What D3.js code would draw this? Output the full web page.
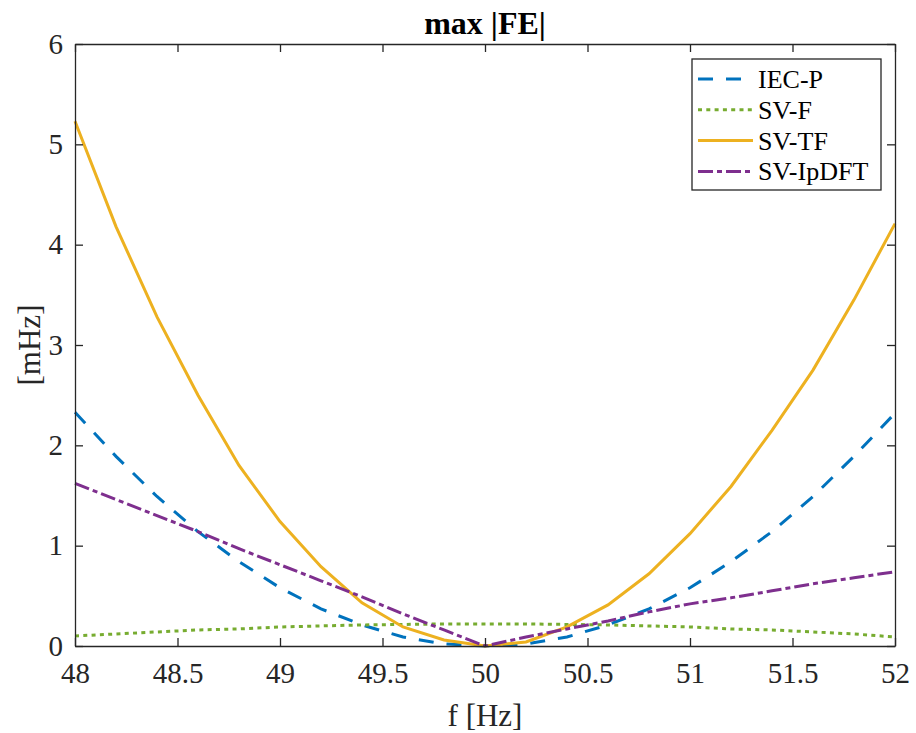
<!DOCTYPE html>
<html>
<head>
<meta charset="utf-8">
<script src="https://cdn.jsdelivr.net/npm/d3@7"></script>
<style>
  body { margin: 0; background: #fff; }
  svg { display: block; font-family: "Liberation Serif", "Times New Roman", serif; }
</style>
</head>
<body>
<svg id="chart" width="916" height="733"></svg>
<script>
// data
const freq = [48, 48.2, 48.4, 48.6, 48.8, 49, 49.2, 49.4, 49.6, 49.8, 50,
              50.2, 50.4, 50.6, 50.8, 51, 51.2, 51.4, 51.6, 51.8, 52];
const iecP = [2.33, 1.89, 1.49, 1.14, 0.84, 0.58, 0.37, 0.21, 0.09, 0.02, 0,
              0.02, 0.09, 0.21, 0.37, 0.58, 0.84, 1.14, 1.49, 1.89, 2.32];
const svF = [0.10, 0.12, 0.14, 0.16, 0.17, 0.19, 0.20, 0.21, 0.215, 0.22, 0.22,
             0.22, 0.215, 0.21, 0.20, 0.19, 0.17, 0.16, 0.14, 0.12, 0.09];
const svTF = [5.23, 4.18, 3.28, 2.50, 1.80, 1.24, 0.79, 0.43, 0.19, 0.06, 0,
              0.04, 0.19, 0.41, 0.72, 1.12, 1.59, 2.15, 2.75, 3.45, 4.21];
const svIpDFT = [1.62, 1.46, 1.30, 1.14, 0.97, 0.81, 0.65, 0.49, 0.32, 0.16, 0,
                 0.09, 0.17, 0.25, 0.34, 0.42, 0.48, 0.55, 0.62, 0.68, 0.74];
const seriesNames = ['IEC-P', 'SV-F', 'SV-TF', 'SV-IpDFT'];
const xTicks = [48, 48.5, 49, 49.5, 50, 50.5, 51, 51.5, 52];
const yTicks = [0, 1, 2, 3, 4, 5, 6];

const series = [
    { name: seriesNames[0], values: iecP, color: '#0072BD', dash: '15,13' },
    { name: seriesNames[1], values: svF, color: '#77AC30', dash: '4,4.3' },
    { name: seriesNames[2], values: svTF, color: '#EDB120', dash: null },
    { name: seriesNames[3], values: svIpDFT, color: '#7E2F8E', dash: '15,4,5,4' }
];

const margin = { top: 44, right: 21, bottom: 87, left: 75 };
const svg = d3.select('#chart');
const width = 916 - margin.left - margin.right;
const height = 733 - margin.top - margin.bottom;
const axisColor = '#262626';
const serif = '"Liberation Serif", "Times New Roman", serif';

const g = svg.append('g').attr('transform', `translate(${margin.left},${margin.top})`);

const x = d3.scaleLinear().domain([48, 52]).range([0, width]);
const y = d3.scaleLinear().domain([0, 6]).range([height, 0]);

// lines
const line = d3.line().x((d, i) => x(freq[i])).y(d => y(d));
series.forEach(s => {
    g.append('path')
        .datum(s.values)
        .attr('fill', 'none')
        .attr('stroke', s.color)
        .attr('stroke-width', 3)
        .attr('stroke-dasharray', s.dash)
        .attr('d', line);
});

// axes with inward ticks on all four sides
const tickLen = 8;
g.append('g')
    .attr('transform', `translate(0,${height})`)
    .call(d3.axisBottom(x).tickValues(xTicks).tickSizeInner(-tickLen).tickSizeOuter(0).tickPadding(16).tickFormat(d3.format('')));
g.append('g')
    .call(d3.axisTop(x).tickValues(xTicks).tickSizeInner(-tickLen).tickSizeOuter(0).tickFormat(''));
g.append('g')
    .call(d3.axisLeft(y).tickValues(yTicks).tickSizeInner(-tickLen).tickSizeOuter(0).tickPadding(12).tickFormat(d3.format('d')));
g.append('g')
    .attr('transform', `translate(${width},0)`)
    .call(d3.axisRight(y).tickValues(yTicks).tickSizeInner(-tickLen).tickSizeOuter(0).tickFormat(''));

g.selectAll('g').attr('font-family', serif).attr('font-size', 29);
g.selectAll('.domain').attr('stroke', axisColor).attr('stroke-width', 1.3);
g.selectAll('.tick line').attr('stroke', axisColor).attr('stroke-width', 1.3);
g.selectAll('.tick text').attr('fill', axisColor);

// title and labels
svg.append('text')
    .attr('x', margin.left + width / 2)
    .attr('y', 34)
    .attr('text-anchor', 'middle')
    .attr('font-weight', 'bold')
    .attr('font-family', serif)
    .style('font-size', '32px')
    .attr('fill', '#000')
    .text('max |FE|');

svg.append('text')
    .attr('x', margin.left + width / 2)
    .attr('y', 726)
    .attr('text-anchor', 'middle')
    .attr('font-family', serif)
    .style('font-size', '31px')
    .attr('fill', axisColor)
    .text('f [Hz]');

svg.append('text')
    .attr('transform', `translate(40,${margin.top + height / 2}) rotate(-90)`)
    .attr('text-anchor', 'middle')
    .attr('font-family', serif)
    .style('font-size', '31px')
    .attr('fill', axisColor)
    .text('[mHz]');

// legend
const legend = svg.append('g').attr('transform', 'translate(692,59)');
legend.append('rect')
    .attr('width', 189)
    .attr('height', 131)
    .attr('fill', '#fff')
    .attr('stroke', axisColor)
    .attr('stroke-width', 1.3);

series.forEach((s, i) => {
    const ly = 20 + i * 30.8;
    legend.append('line')
        .attr('x1', 6).attr('x2', 61)
        .attr('y1', ly).attr('y2', ly)
        .attr('stroke', s.color)
        .attr('stroke-width', 3)
        .attr('stroke-dasharray', s.dash);
    legend.append('text')
        .attr('x', 66)
        .attr('y', ly + 9)
        .attr('font-family', serif)
        .style('font-size', '26px')
        .attr('fill', '#000')
        .text(s.name);
});
</script>
</body>
</html>
